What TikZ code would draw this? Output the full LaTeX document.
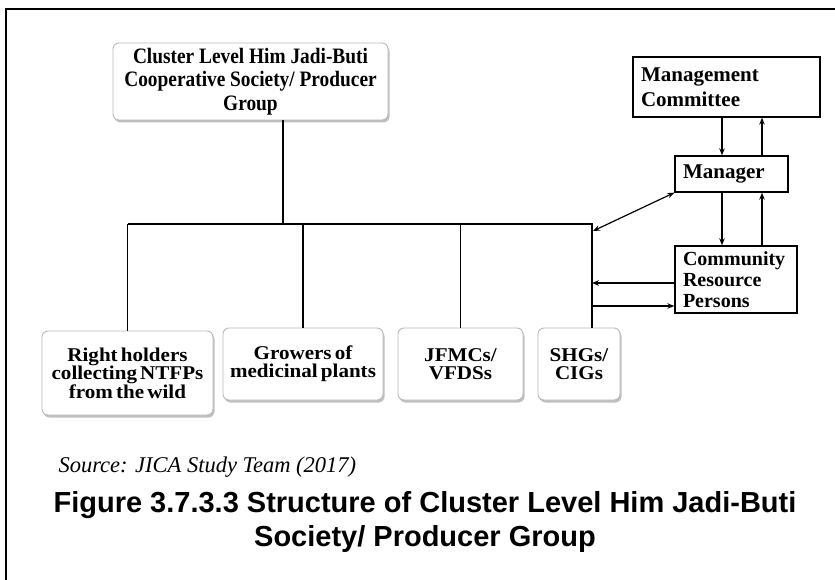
\documentclass[tikz,border=0pt]{standalone}
\usepackage{fontspec}
\setmainfont{Liberation Serif}
\newfontfamily\wideserif[FakeStretch=1.08,WordSpace=0.6]{Liberation Serif}
\newfontfamily\narrowserif[FakeStretch=0.88]{Liberation Serif}
\newfontfamily\titlesans{Liberation Sans}
\usetikzlibrary{shadows,arrows.meta}

\begin{document}
\begin{tikzpicture}[x=1pt,y=-1pt,
  roundbox/.style={draw=gray!55, line width=0.9pt, rounded corners=6pt, fill=white,
    drop shadow={shadow xshift=1.5pt, shadow yshift=-2.5pt, fill=black!55, opacity=0.45},
    align=center, inner sep=2pt},
  upperfont/.style={font=\narrowserif\bfseries\fontsize{22}{23.5}\selectfont},
  lowerfont/.style={font=\wideserif\bfseries\fontsize{19.5}{18}\selectfont},
  sqbox/.style={draw=black, line width=1.3pt, fill=white, align=left, inner ysep=0pt,
    inner xsep=8pt},
  rightfont/.style={font=\bfseries\fontsize{21}{25}\selectfont},
  bus/.style={line width=1.5pt},
  arr/.style={line width=1.2pt, -{Stealth[length=7pt,width=5.5pt]}},
  dblarr/.style={line width=1.2pt, {Stealth[length=7pt,width=5.5pt]}-{Stealth[length=7pt,width=5.5pt]}}
]
\useasboundingbox (0,0) rectangle (835,580);

% outer frame (runs off the right and bottom edges)
\draw[line width=2pt] (6,582) -- (6,9) -- (837,9);

% cluster level society
\node[roundbox, upperfont, minimum width=275pt, minimum height=77pt] (top) at (250.5,81.5)
  {Cluster Level Him Jadi-Buti\\Cooperative Society/ Producer\\Group};

% member groups
\node[roundbox, lowerfont, minimum width=171pt, minimum height=84pt] (b1) at (127.5,373)
  {Right holders\\collecting NTFPs\\from the wild};
\node[roundbox, lowerfont, minimum width=160pt, minimum height=72pt] (b2) at (303,364)
  {Growers of\\medicinal plants};
\node[roundbox, lowerfont, minimum width=125pt, minimum height=72pt] (b3) at (460.5,364)
  {JFMCs/\\VFDSs};
\node[roundbox, lowerfont, minimum width=82pt, minimum height=72pt] (b4) at (579,364)
  {SHGs/\\CIGs};

% management side
\node[sqbox, rightfont, text width=171pt, minimum height=60pt] (mc) at (726.5,87)
  {Management\\Committee};
\node[sqbox, rightfont, text width=97pt, minimum height=36pt] (mgr) at (731.5,174)
  {Manager};
\node[sqbox, font=\bfseries\fontsize{20}{21}\selectfont, text width=106pt, minimum height=67pt] (crp) at (736,279.5)
  {Community\\Resource\\Persons};

% tree connectors
\coordinate (jct) at (283,224);
\coordinate (busR) at (592,224);
\draw[bus] (jct |- top.south) -- (jct);
\draw[bus] (b1.north |- jct) -- (busR) -- (busR |- b4.north);
\foreach \b in {b1,b2,b3} \draw[bus] (\b.north |- jct) -- (\b.north);

% manager <-> groups
\coordinate (tip) at (593,231);
\draw[dblarr] (tip) -- (mgr.south west);

% community resource persons <-> groups
\coordinate (inL) at (592,283);
\coordinate (outL) at (592,306);
\draw[arr] (inL -| crp.west) -- (inL);
\draw[arr] (outL) -- (outL -| crp.west);

% committee / manager / resource persons
\coordinate (dn) at (722,0);
\coordinate (up) at (762,0);
\draw[arr] (dn |- mc.south) -- (dn |- mgr.north);
\draw[arr] (up |- mgr.north) -- (up |- mc.south);
\draw[arr] (dn |- mgr.south) -- (dn |- crp.north);
\draw[arr] (up |- crp.north) -- (up |- mgr.south);

% source and caption
\node[anchor=base west, font=\itshape\fontsize{22.5}{27}\selectfont] (src) at (55,472)
  {Source: JICA Study Team (2017)};
\node[align=center, font=\titlesans\bfseries\fontsize{29}{33.5}\selectfont] (cap) at (425,522)
  {Figure 3.7.3.3 Structure of Cluster Level Him Jadi-Buti\\Society/ Producer Group};
\end{tikzpicture}
\end{document}
